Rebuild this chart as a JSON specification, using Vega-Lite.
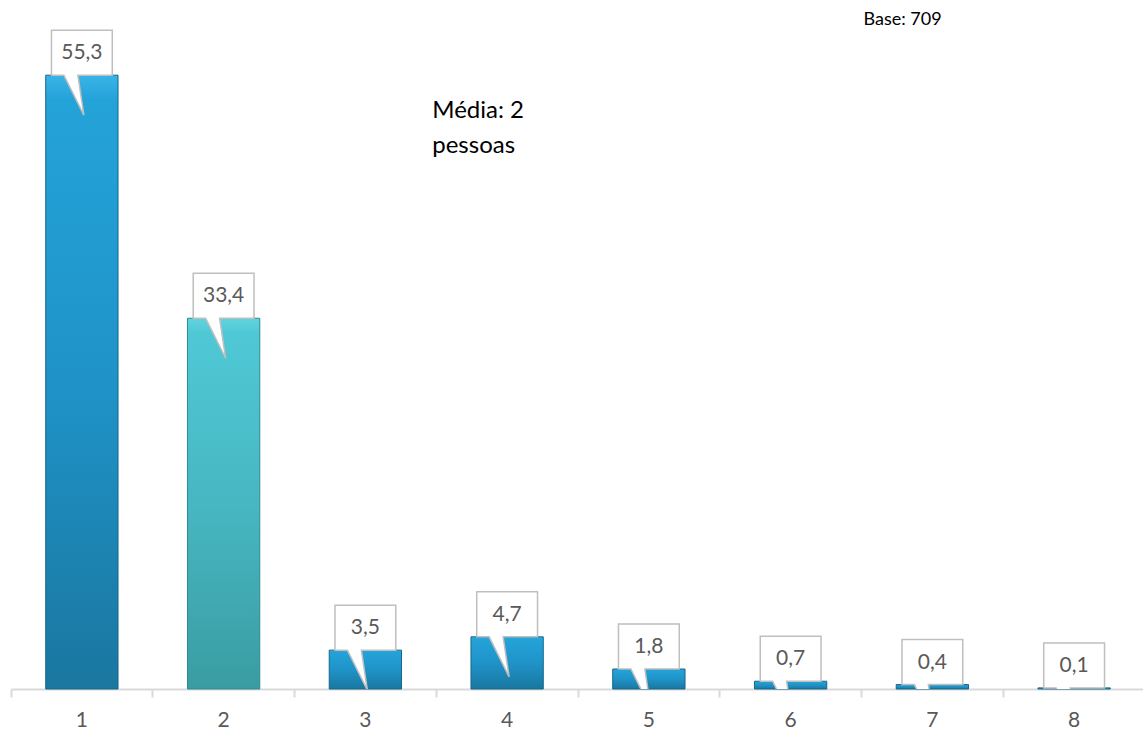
{
  "$schema": "https://vega.github.io/schema/vega-lite/v6.json",
  "width": 1134,
  "height": 666,
  "autosize": "none",
  "padding": {"left": 11, "top": 23, "right": 0, "bottom": 42},
  "background": "white",
  "config": {"view": {"stroke": null}, "font": "Lato"},
  "data": {
    "values": [
      {"pessoas": "1", "pct": 55.3, "rotulo": "55,3", "grupo": "azul"},
      {"pessoas": "2", "pct": 33.4, "rotulo": "33,4", "grupo": "turquesa"},
      {"pessoas": "3", "pct": 3.5, "rotulo": "3,5", "grupo": "azul"},
      {"pessoas": "4", "pct": 4.7, "rotulo": "4,7", "grupo": "azul"},
      {"pessoas": "5", "pct": 1.8, "rotulo": "1,8", "grupo": "azul"},
      {"pessoas": "6", "pct": 0.7, "rotulo": "0,7", "grupo": "azul"},
      {"pessoas": "7", "pct": 0.4, "rotulo": "0,4", "grupo": "azul"},
      {"pessoas": "8", "pct": 0.1, "rotulo": "0,1", "grupo": "azul"}
    ]
  },
  "encoding": {
    "x": {
      "field": "pessoas",
      "type": "ordinal",
      "scale": {"paddingInner": 0, "paddingOuter": 0},
      "axis": {
        "title": null,
        "labelAngle": 0,
        "domainColor": "#d9d9d9",
        "domainWidth": 2,
        "tickColor": "#d9d9d9",
        "tickWidth": 2,
        "tickSize": 8,
        "bandPosition": 0,
        "labelFontSize": 21,
        "labelColor": "#595959",
        "labelPadding": 12,
        "grid": false
      }
    },
    "y": {
      "field": "pct",
      "type": "quantitative",
      "scale": {"domain": [0, 60]},
      "axis": null
    }
  },
  "layer": [
    {
      "transform": [{"filter": "datum.grupo == 'azul'"}],
      "mark": {
        "type": "bar",
        "width": {"band": 0.51},
        "stroke": "#16678a",
        "strokeWidth": 1,
        "fill": {
          "gradient": "linear",
          "x1": 0, "y1": 0, "x2": 0, "y2": 1,
          "stops": [
            {"offset": 0, "color": "#3ab4e6"},
            {"offset": 0.04, "color": "#24a3d9"},
            {"offset": 0.5, "color": "#1f93c8"},
            {"offset": 1, "color": "#1a77a0"}
          ]
        }
      }
    },
    {
      "transform": [{"filter": "datum.grupo == 'turquesa'"}],
      "mark": {
        "type": "bar",
        "width": {"band": 0.51},
        "stroke": "#2f8a90",
        "strokeWidth": 1,
        "fill": {
          "gradient": "linear",
          "x1": 0, "y1": 0, "x2": 0, "y2": 1,
          "stops": [
            {"offset": 0, "color": "#62d3de"},
            {"offset": 0.04, "color": "#4fc8d6"},
            {"offset": 0.5, "color": "#47b7c1"},
            {"offset": 1, "color": "#3a9ca3"}
          ]
        }
      }
    },
    {
      "mark": {
        "type": "point",
        "clip": true,
        "filled": true,
        "fill": "white",
        "stroke": "#bfbfbf",
        "strokeWidth": 1.5,
        "opacity": 1,
        "size": 6400,
        "shape": "M -0.76 -1.125 L 0.76 -1.125 L 0.76 0 L -0.1 0 L 0.05 1 L -0.45 0 L -0.76 0 Z"
      }
    },
    {
      "mark": {
        "type": "text",
        "dy": -22,
        "fontSize": 21,
        "color": "#595959",
        "baseline": "middle",
        "align": "center"
      },
      "encoding": {"text": {"field": "rotulo"}}
    },
    {
      "data": {
        "values": [
          {"pessoas": "4", "pct": 51.44, "texto": "Média: 2\npessoas"}
        ]
      },
      "mark": {
        "type": "text",
        "align": "left",
        "baseline": "alphabetic",
        "fontSize": 24,
        "lineHeight": 35,
        "lineBreak": "\n",
        "color": "#000000",
        "dx": -4
      },
      "encoding": {
        "x": {"field": "pessoas", "type": "ordinal", "bandPosition": 0},
        "text": {"field": "texto"}
      }
    },
    {
      "data": {
        "values": [
          {"pessoas": "7", "pct": 59.8, "texto": "Base: 709"}
        ]
      },
      "mark": {
        "type": "text",
        "align": "left",
        "baseline": "alphabetic",
        "fontSize": 18,
        "color": "#000000",
        "dx": 2
      },
      "encoding": {
        "x": {"field": "pessoas", "type": "ordinal", "bandPosition": 0},
        "text": {"field": "texto"}
      }
    }
  ]
}
